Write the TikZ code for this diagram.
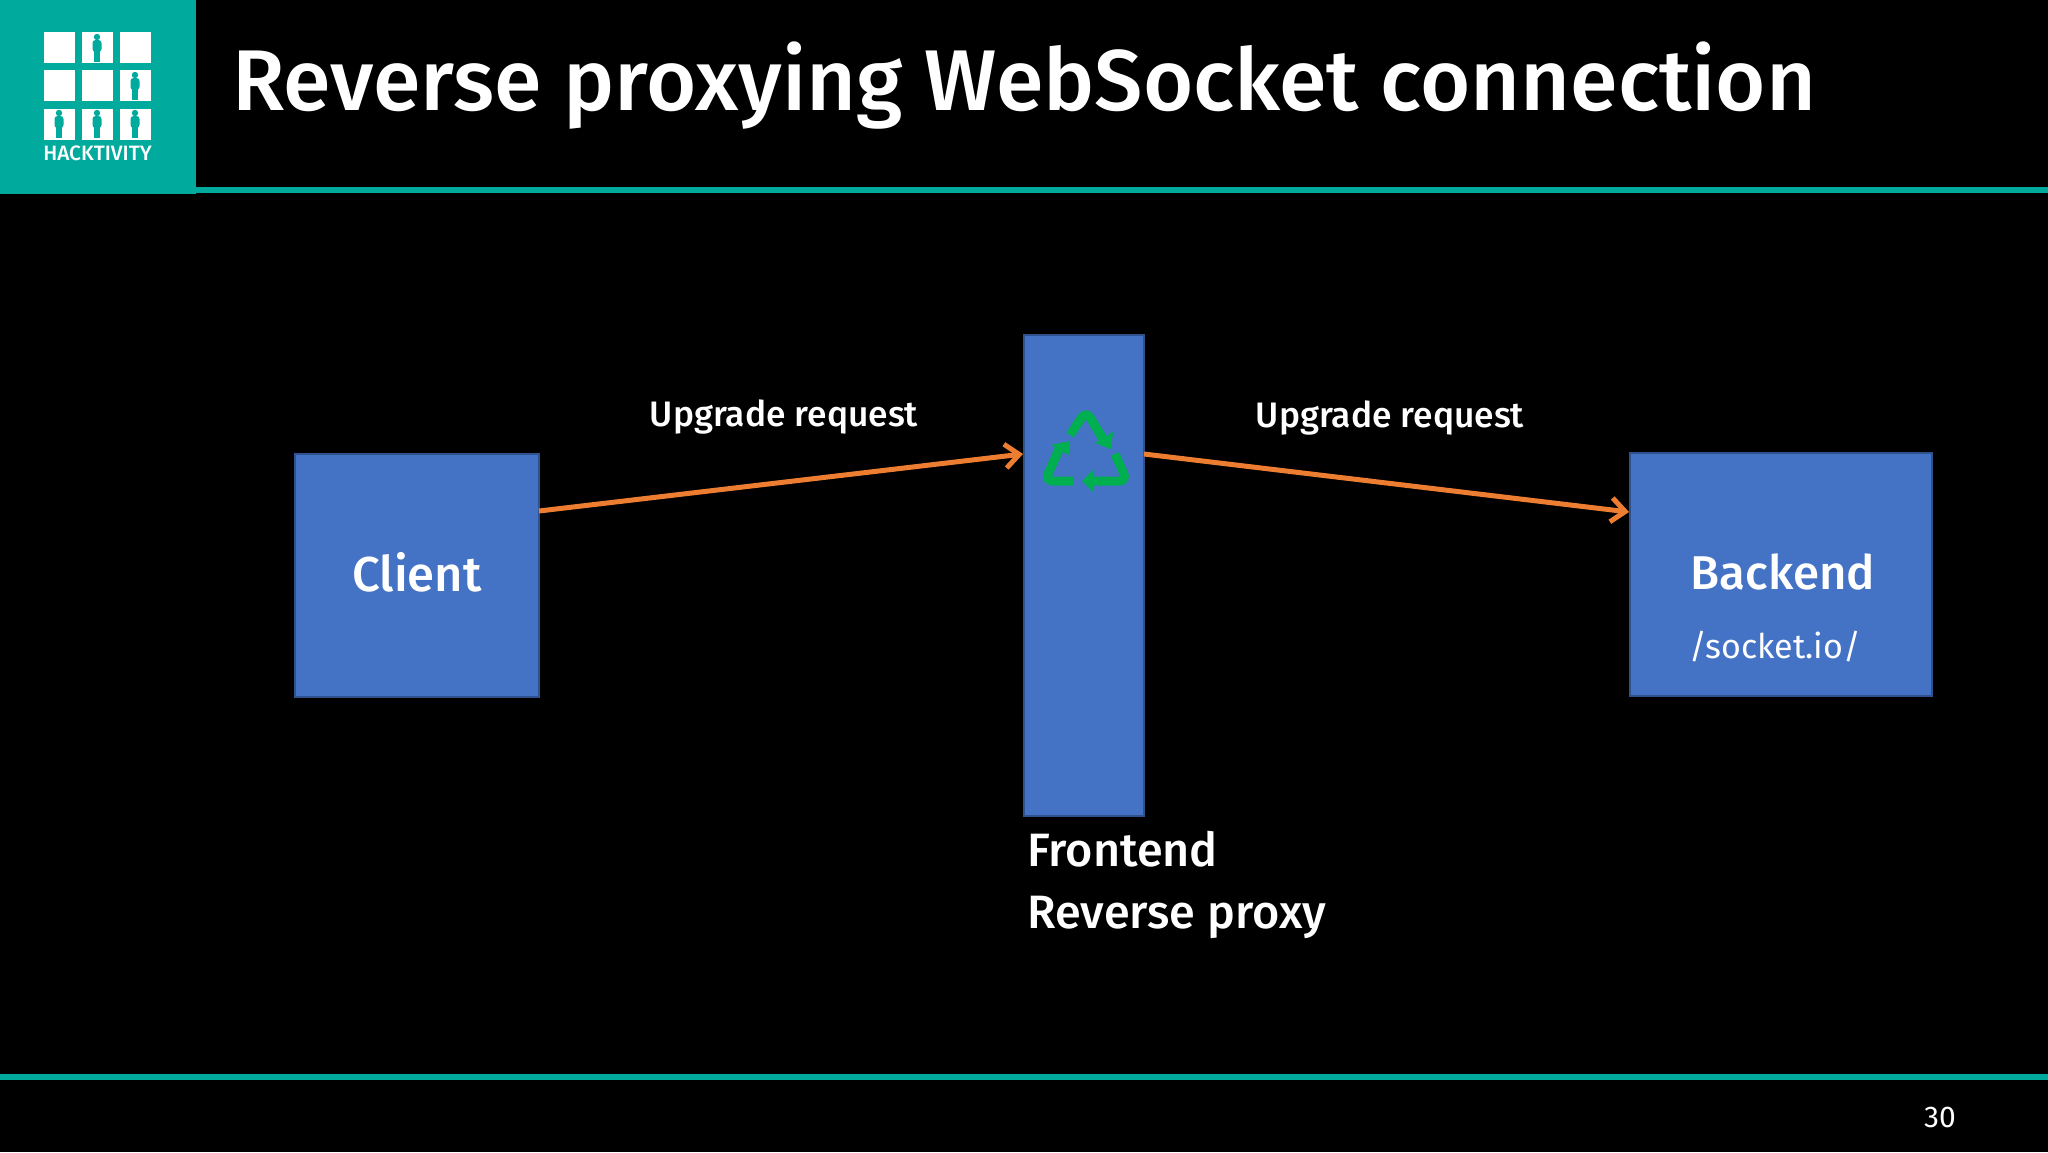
\documentclass[tikz,border=0pt]{standalone}
\usepackage{fontspec}
\setmainfont{Fira Sans Medium}
\newfontfamily\plainfont{Fira Sans}
\usetikzlibrary{arrows.meta}
\definecolor{hackteal}{HTML}{00AB9E}
\definecolor{boxblue}{HTML}{4472C4}
\definecolor{boxline}{HTML}{2F528F}
\definecolor{linkorange}{HTML}{ED7D31}
\definecolor{cyclegreen}{HTML}{00B050}
\tikzset{
	boxnode/.style = {fill=boxblue, draw=boxline, line width=1pt, anchor=north west, inner sep=0pt},
	txt/.style = {text=white, inner sep=0pt},
	link/.style = {draw=linkorange, line width=2.5pt, -{Straight Barb[length=7pt,width=12pt,line width=2.5pt]}},
	cycle/.style = {draw=cyclegreen, line width=4.5pt, rounded corners=4pt},
	cyclehead/.style = {fill=cyclegreen},
}
\newcommand{\person}[2]{
	\fill[hackteal] (#1,#2-26) circle [radius=3.2];
	\fill[hackteal, rounded corners=1.5pt] (#1-4.5,#2-23) rectangle (#1+4.5,#2-11);
	\fill[hackteal] (#1-3,#2-13) rectangle (#1+3,#2-1);
}
\begin{document}
\begin{tikzpicture}[x=0.5pt, y=-0.5pt]
\useasboundingbox (0,0) rectangle (2048,1152);
\fill[black] (0,0) rectangle (2048,1152);

% header and footer
\fill[hackteal] (0,0) rectangle (196,194);
\fill[hackteal] (196,187) rectangle (2048,193);
\fill[hackteal] (0,1074) rectangle (2048,1080);

% logo
\foreach \y in {32,70,109}
	{
		\foreach \x in {44,82,120}
			{
				\fill[white] (\x,\y) rectangle ++(31,31);
			}
	}
\person{97}{63}
\person{135}{101}
\person{59}{139}
\person{97}{139}
\person{135}{139}
\node[txt, font=\fontsize{10.4}{12}\selectfont] (brand) at (97.5,153) {HACKTIVITY};

\node[txt, anchor=base west, font=\fontsize{43.1}{50}\selectfont] (title) at (232,110) {Reverse proxying WebSocket connection};
\node[txt, font=\plainfont\fontsize{15}{18}\selectfont] (page) at (1940,1117) {30};

% boxes
\node[boxnode, minimum width=122pt, minimum height=121.5pt] (client) at (294,453) {};
\node[boxnode, minimum width=60pt, minimum height=240.5pt] (proxy) at (1023,334) {};
\node[boxnode, minimum width=151pt, minimum height=121.5pt] (backend) at (1629,452) {};

\node[txt, font=\fontsize{24.5}{28}\selectfont] (clientlabel) at (417,572) {Client};
\node[txt, font=\fontsize{23.7}{28}\selectfont] (backendlabel) at (1783,572) {Backend};
\node[txt, font=\plainfont\fontsize{17}{22}\selectfont] (socketlabel) at (1775,647) {/socket.io/};
\node[txt, anchor=north west, align=left, font=\fontsize{23.4}{31}\selectfont] (proxylabel) at (1027,831) {Frontend\\Reverse proxy};

% connectors
\coordinate (clientout) at (539,511);
\coordinate (proxyin) at (1023,454);
\coordinate (proxyout) at (1144,454);
\coordinate (backendin) at (1629,512);
\draw[link] (clientout) -- (proxyin);
\draw[link] (proxyout) -- (backendin);
\node[txt, font=\fontsize{17.7}{22}\selectfont] (reqa) at (784,417) {Upgrade request};
\node[txt, font=\fontsize{17.7}{22}\selectfont] (reqb) at (1390,418) {Upgrade request};

% recycle sign
\draw[cycle] (1070,435) -- (1086,411) -- (1105,442);
\fill[cyclehead] (1111,449) -- (1113,432) -- (1095,443) -- cycle;
\draw[cycle] (1115,454) -- (1127,481) -- (1090,481);
\fill[cyclehead] (1082,481) -- (1093,470) -- (1093,492) -- cycle;
\draw[cycle] (1073,481) -- (1045,481) -- (1060,447);
\fill[cyclehead] (1070,441) -- (1051,445) -- (1069,455) -- cycle;

\end{tikzpicture}
\end{document}
